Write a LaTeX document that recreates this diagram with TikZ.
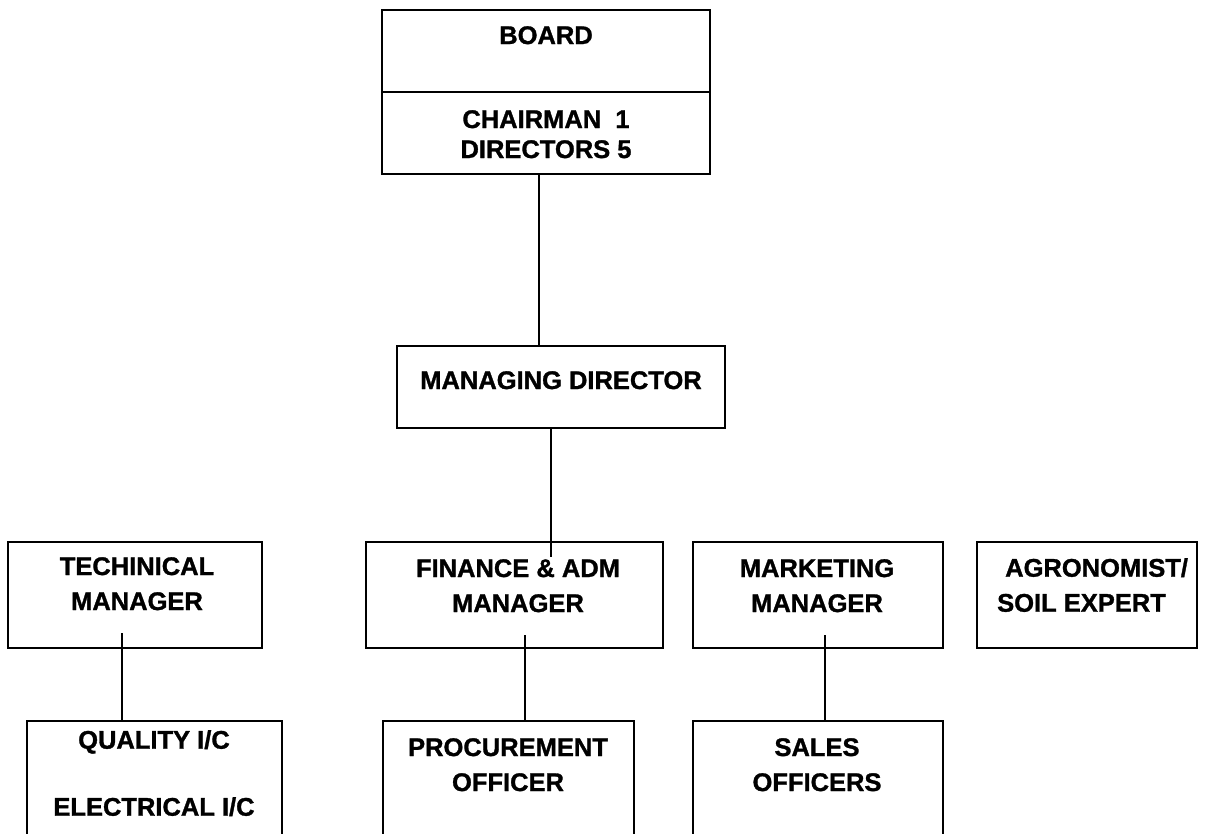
\documentclass[tikz,border=0pt]{standalone}
\usepackage{fontspec}
\setmainfont{Liberation Sans}[BoldFeatures={FakeBold=1.2}]
\usetikzlibrary{calc}
\begin{document}
\begin{tikzpicture}[x=1pt, y=-1pt,
	post/.style={draw, line width=2.7pt, inner sep=0pt},
	lbl/.style={font=\bfseries\fontsize{25.5}{35}\selectfont, align=center, inner sep=0pt, anchor=north},
	link/.style={line width=2.2pt}]
	
	\clip (0,0) rectangle (1217,833);
	
	%board
	\node[post, minimum width=328, minimum height=82] (board) at (546,51) {};
	\node[post, minimum width=328, minimum height=82] (council) at (546,133) {};
	\node[lbl] (boardtxt) at (546,26) {BOARD};
	\node[lbl] (counciltxt) at (546,110) {CHAIRMAN\ \ 1\\[-5pt]DIRECTORS 5};
	
	\node[post, minimum width=328, minimum height=82] (md) at (561,387) {};
	\node[lbl] (mdtxt) at (561,371) {MANAGING DIRECTOR};
	
	%managers
	\node[post, minimum width=254, minimum height=106] (tech) at (135,595) {};
	\node[post, minimum width=297, minimum height=106] (fin) at (514.5,595) {};
	\node[post, minimum width=250, minimum height=106] (mkt) at (818,595) {};
	\node[post, minimum width=220, minimum height=106] (agro) at (1087,595) {};
	\node[lbl] (techtxt) at (137,557) {TECHINICAL\\MANAGER};
	\node[lbl] (fintxt) at (518,559) {FINANCE \& ADM\\MANAGER};
	\node[lbl] (mkttxt) at (817,559) {MARKETING\\MANAGER};
	\node[lbl, align=left, anchor=north west] (agrotxt) at (997,558)
		{\hspace{8pt}AGRONOMIST/\\SOIL EXPERT};
	
	%officers
	\node[post, minimum width=255, minimum height=140] (quality) at (154.5,791) {};
	\node[post, minimum width=251, minimum height=140] (proc) at (508.5,791) {};
	\node[post, minimum width=250, minimum height=140] (sales) at (818,791) {};
	\node[lbl] (qualitytxt) at (154,730) {QUALITY I/C\\[32pt]ELECTRICAL I/C};
	\node[lbl] (proctxt) at (508,738) {PROCUREMENT\\OFFICER};
	\node[lbl] (salestxt) at (817,738) {SALES\\OFFICERS};
	
	%links
	\coordinate (c1) at (539,0);
	\coordinate (c2) at (551,0);
	\coordinate (c3) at (122,0);
	\coordinate (c4) at (525,0);
	\coordinate (c5) at (825,0);
	\draw[link] (c1 |- council.south) -- (c1 |- md.north);
	\draw[link] (c2 |- md.south) -- ($(c2 |- fin.north)+(0,16)$);
	\draw[link] ($(c3 |- tech.south)+(0,-16)$) -- (c3 |- quality.north);
	\draw[link] ($(c4 |- fin.south)+(0,-14)$) -- (c4 |- proc.north);
	\draw[link] ($(c5 |- mkt.south)+(0,-14)$) -- (c5 |- sales.north);
\end{tikzpicture}
\end{document}
